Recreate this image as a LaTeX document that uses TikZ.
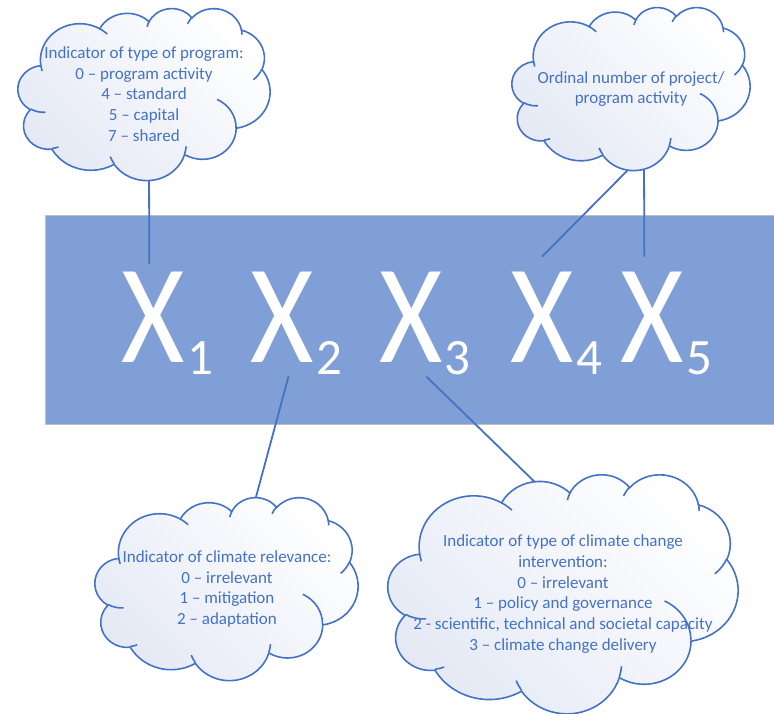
\documentclass[tikz,border=0pt]{standalone}
\usepackage{fontspec}
\setmainfont{Carlito}
\usetikzlibrary{calc}
\definecolor{accent}{HTML}{4472C4}
\definecolor{barblue}{HTML}{819FD7}
\definecolor{barline}{HTML}{BFBFBF}
\definecolor{cloudtint}{HTML}{E4E9F5}

% one lobe of the cloud: x radius, y radius, start and sweep angle
\newcommand{\lobe}[4]{arc[x radius=#1, y radius=#2, start angle={atan2((#1)*sin(#3),(#2)*cos(#3))}, delta angle={Mod(atan2((#1)*sin((#3)+(#4)),(#2)*cos((#3)+(#4)))-atan2((#1)*sin(#3),(#2)*cos(#3))-(#4)+180,360)+(#4)-180}]}

% cloud in the box with top left corner (#1,#2), width #3 and height #4
\newcommand{\cloudbox}[4]{%
  \begin{scope}[shift={(#1,#2)}, xscale=#3/43.2, yscale=#4/43.2]
    % outline
    \draw[cloudline, cloudfill] (3.900,14.370)
      \lobe{6.753}{9.190}{-190.4875}{123.7805}
      \lobe{5.333}{7.267}{-144.1024}{89.9452}
      \lobe{4.365}{5.945}{-145.8079}{99.7230}
      \lobe{4.857}{6.595}{-130.9861}{117.2417}
      \lobe{5.333}{7.273}{-78.7089}{109.0269}
      \lobe{6.775}{9.220}{-46.2673}{130.2690}
      \lobe{5.785}{7.867}{0.6250}{114.0333}
      \lobe{6.752}{9.215}{22.4516}{115.1726}
      \lobe{7.720}{10.543}{66.2426}{75.7110}
      \lobe{4.360}{5.918}{-274.9421}{146.7356}
      \lobe{4.345}{5.945}{-246.8285}{152.5189} -- cycle;
    % inner arcs
    \draw[cloudline]
      (4.693,26.177) \lobe{4.345}{5.945}{86.7420}{26.4295}
      (6.928,34.899) \lobe{4.360}{5.918}{73.6105}{11.4475}
      (16.478,39.090) \lobe{6.752}{9.215}{137.6242}{14.0811}
      (28.827,34.751) \lobe{6.752}{9.215}{6.4533}{15.9984}
      (34.129,22.954) \lobe{5.785}{7.867}{-70.2924}{70.9174}
      (41.798,15.354) \lobe{5.333}{7.273}{30.3180}{27.7515}
      (38.324,5.426) \lobe{4.857}{6.595}{-13.7443}{14.8589}
      (29.078,3.952) \lobe{4.857}{6.595}{-149.1815}{18.1954}
      (22.141,4.720) \lobe{4.365}{5.945}{-163.4943}{17.6864}
      (14.000,5.192) \lobe{6.753}{9.190}{-66.7070}{12.3194}
      (4.127,15.789) \lobe{6.753}{9.190}{157.6544}{11.8582};
  \end{scope}}

\begin{document}
\begin{tikzpicture}[x=1pt, y=-1pt,
    cloudline/.style={draw=accent, line width=1.6pt},
    cloudfill/.style={top color=white, bottom color=cloudtint, shading angle=-45},
    cloudtext/.style={text=accent, align=center, font=\fontsize{17}{20.8}\selectfont, inner sep=0pt},
    xletter/.style={text=white, font=\fontsize{141}{141}\selectfont, inner sep=0pt, anchor=base west},
    xindex/.style={text=white, font=\fontsize{51}{51}\selectfont, inner sep=0pt, anchor=base west},
    link/.style={draw=accent, line width=1.8pt, line cap=round}]
  \useasboundingbox (0,0) rectangle (774,714);

  % code bar
  \node[draw=barline, fill=barblue, minimum width=731pt, minimum height=209pt, inner sep=0pt] (bar) at (410.5,319.5) {};

  % digits of the code
  \node[xletter] (x1) at (121.5,362) {\scalebox{0.865}[1]{X}};
  \node[xindex] (n1) at ([xshift=2pt, yshift=-12pt]x1.base east) {1};
  \node[xletter] (x2) at (250.5,362) {\scalebox{0.865}[1]{X}};
  \node[xindex] (n2) at ([xshift=2pt, yshift=-12pt]x2.base east) {2};
  \node[xletter] (x3) at (379,362) {\scalebox{0.865}[1]{X}};
  \node[xindex] (n3) at ([xshift=2pt, yshift=-12pt]x3.base east) {3};
  \node[xletter] (x4) at (510.5,362) {\scalebox{0.865}[1]{X}};
  \node[xindex] (n4) at ([xshift=2pt, yshift=-12pt]x4.base east) {4};
  \node[xletter] (x5) at (620.5,362) {\scalebox{0.865}[1]{X}};
  \node[xindex] (n5) at ([xshift=2pt, yshift=-12pt]x5.base east) {5};

  % ends of the links inside the clouds
  \coordinate (progtype end) at (149,168);
  \coordinate (ordinal end a) at (637.8,160);
  \coordinate (ordinal end b) at (644,160);
  \coordinate (relevance end) at (253.3,507);
  \coordinate (intervention end) at (543,490);

  % links
  \draw[link] (progtype end) -- ([xshift=-4pt, yshift=8pt]x1.north);
  \draw[link] (ordinal end a) -- ([yshift=15pt]x4.north);
  \draw[link] (ordinal end b) -- ([xshift=-8pt, yshift=15pt]x5.north);
  \draw[link] (relevance end) -- ([xshift=6pt, yshift=-15pt]x2.base);
  \draw[link] (intervention end) -- ([xshift=16pt, yshift=-15pt]x3.base);

  % clouds
  \cloudbox{18}{8}{252}{172}
  \cloudbox{512}{7}{238}{163}
  \cloudbox{95}{497}{263}{183}
  \cloudbox{388}{474}{350}{239}

  % texts of the clouds
  \node[cloudtext] (progtype) at (144,94) {Indicator of type of program:\\0 – program activity\\4 – standard\\5 – capital\\7 – shared};
  \node[cloudtext] (ordinal) at (631,89) {Ordinal number of project/\\program activity};
  \node[cloudtext] (relevance) at (227,589) {Indicator of climate relevance:\\0 – irrelevant\\1 – mitigation\\2 – adaptation};
  \node[cloudtext] (intervention) at (563,594) {Indicator of type of climate change\\intervention:\\0 – irrelevant\\1 – policy and governance\\2 - scientific, technical and societal capacity\\3 – climate change delivery};
\end{tikzpicture}
\end{document}
